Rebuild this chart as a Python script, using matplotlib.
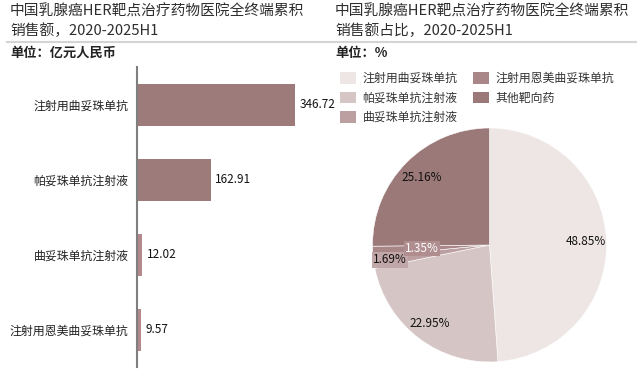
import matplotlib
matplotlib.use("Agg")
import matplotlib.pyplot as plt
from matplotlib.lines import Line2D
from matplotlib.patches import Patch
import math

plt.rcParams['font.family'] = ['Noto Sans CJK SC', 'DejaVu Sans']

# Data
bar_categories = ["注射用曲妥珠单抗", "帕妥珠单抗注射液", "曲妥珠单抗注射液", "注射用恩美曲妥珠单抗"]
bar_values = [346.72, 162.91, 12.02, 9.57]
bar_labels = ["346.72", "162.91", "12.02", "9.57"]

pie_categories = ["注射用曲妥珠单抗", "帕妥珠单抗注射液", "曲妥珠单抗注射液", "注射用恩美曲妥珠单抗", "其他靶向药"]
pie_values = [48.85, 22.95, 1.69, 1.35, 25.16]
pie_labels = ["48.85%", "22.95%", "1.69%", "1.35%", "25.16%"]

bar_colors = ["#9E7B7B", "#9E7B7B", "#B3898C", "#B3898C"]
pie_colors = ["#EEE6E5", "#D6C5C5", "#BC9FA0", "#A98789", "#9C7979"]

W, H = 637, 369
fig = plt.figure(figsize=(W / 100, H / 100), dpi=100)

def fx(x):
    return x / W

def fy(y):
    return 1 - y / H

title_color = "#2E2E2E"
tfs = 10.6
# Titles
fig.text(fx(10), fy(12), "中国乳腺癌HER靶点治疗药物医院全终端累积", fontsize=tfs, color=title_color, va="center", ha="left")
fig.text(fx(10), fy(31), "销售额，2020-2025H1", fontsize=tfs, color=title_color, va="center", ha="left")
fig.text(fx(335), fy(12), "中国乳腺癌HER靶点治疗药物医院全终端累积", fontsize=tfs, color=title_color, va="center", ha="left")
fig.text(fx(335), fy(31), "销售额占比，2020-2025H1", fontsize=tfs, color=title_color, va="center", ha="left")
fig.add_artist(Line2D([fx(7), fx(637)], [fy(42), fy(42)], color="#D4D4D4", linewidth=1.5, transform=fig.transFigure))
fig.text(fx(10), fy(53), "单位：亿元人民币", fontsize=9.5, fontweight="bold", color="#222222", va="center", ha="left")
fig.text(fx(335), fy(53), "单位：%", fontsize=9.5, fontweight="bold", color="#222222", va="center", ha="left")

# Bar chart
px_per_unit = 158 / 346.72
xmax = 400
ax = fig.add_axes([fx(137), fy(367), fx(xmax * px_per_unit), (367 - 67) / H])
ypos = list(range(len(bar_categories)))
ax.barh(ypos, bar_values, height=0.56, color=bar_colors, edgecolor="none")
ax.set_xlim(0, xmax)
ax.set_ylim(3.5, -0.5)
ax.set_yticks(ypos)
ax.set_yticklabels(bar_categories, fontsize=8.6, color="#222222")
ax.tick_params(axis="y", length=0, pad=6)
ax.set_xticks([])
for s in ["top", "right", "bottom"]:
    ax.spines[s].set_visible(False)
ax.spines["left"].set_color("#7F7F7F")
ax.spines["left"].set_linewidth(1.5)
for y, v, lab in zip(ypos, bar_values, bar_labels):
    ax.annotate(lab, (v, y), xytext=(3, 0), textcoords="offset points", va="center", ha="left",
                fontsize=8.5, color="#111111")

# Pie chart
cx, cy, r = 489.5, 245, 117
pax = fig.add_axes([fx(cx - r), fy(cy + r), 2 * r / W, 2 * r / H])
wedges, texts = pax.pie(pie_values, colors=pie_colors, startangle=90, counterclock=False,
                        wedgeprops=dict(edgecolor="white", linewidth=0.4), radius=1)
pax.set_xlim(-1, 1)
pax.set_ylim(-1, 1)
pax.set_aspect("equal")

angle = 90.0
total = sum(pie_values)
label_r = [0.82, 0.84, 0.86, 0.58, 0.82]
boxes = [None, None, "#C2A7A8", "#B08D8F", None]
tcolors = ["#111111", "#111111", "#111111", "white", "#111111"]
for i, v in enumerate(pie_values):
    span = v / total * 360
    mid = angle - span / 2
    angle -= span
    x = label_r[i] * math.cos(math.radians(mid))
    y = label_r[i] * math.sin(math.radians(mid))
    kw = {}
    if boxes[i]:
        kw["bbox"] = dict(boxstyle="square,pad=0.1", facecolor=boxes[i], edgecolor="none")
    pax.text(x, y, pie_labels[i], ha="center", va="center", fontsize=8.5, color=tcolors[i], **kw)

handles = [Patch(facecolor=c, edgecolor="none") for c in pie_colors]
fig.legend(handles, pie_categories, loc="upper left", bbox_to_anchor=(fx(334), fy(66)), ncol=2,
           frameon=False, fontsize=8.6, handlelength=1.35, handleheight=1.1, handletextpad=0.55,
           columnspacing=1.3, labelspacing=0.55, borderpad=0, labelcolor="#333333")

fig.savefig("out.png", dpi=100)
